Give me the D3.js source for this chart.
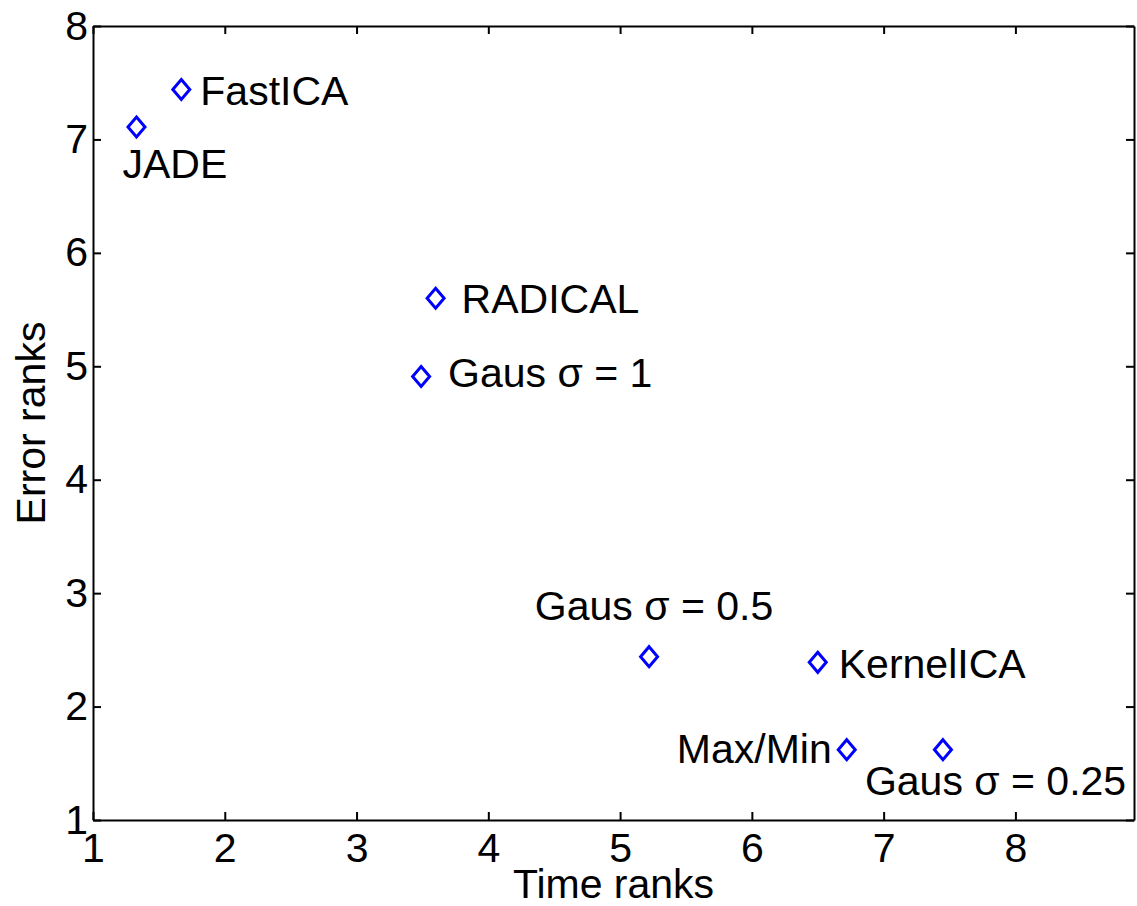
<!DOCTYPE html>
<html>
<head>
<meta charset="utf-8">
<script src="https://cdn.jsdelivr.net/npm/d3@7"></script>
<style>
  body { margin: 0; background: #fff; }
  text { font-family: "Liberation Sans", Arial, sans-serif; fill: #000; }
</style>
</head>
<body>
<svg id="chart" width="1137" height="906"></svg>
<script>
// data
var methods = ['JADE', 'FastICA', 'RADICAL', 'Gaus \u03c3 = 1', 'Gaus \u03c3 = 0.5', 'KernelICA', 'Max/Min', 'Gaus \u03c3 = 0.25'];
var timeRanks = [1.33, 1.67, 3.6, 3.49, 5.22, 6.5, 6.72, 7.45];
var errorRanks = [7.11, 7.44, 5.6, 4.91, 2.44, 2.39, 1.62, 1.62];
var xTicks = [1, 2, 3, 4, 5, 6, 7, 8];
var yTicks = [1, 2, 3, 4, 5, 6, 7, 8];

// where each label sits relative to its marker: [dx, dy, anchor]
var labelPlace = [
    [-14, 51, 'start'],
    [19, 15, 'start'],
    [26, 15, 'start'],
    [27, 11, 'start'],
    [5, -37, 'middle'],
    [21, 16, 'start'],
    [-15, 13, 'end'],
    [-78, 45, 'start']
];

var margin = { top: 26, right: 3, bottom: 86, left: 93 };
var width = 1137 - margin.left - margin.right;
var height = 906 - margin.top - margin.bottom;
var fontSize = 41;

var svg = d3.select('#chart')
    .append('g')
    .attr('transform', 'translate(' + margin.left + ',' + margin.top + ')');

var x = d3.scaleLinear().domain([1, 8.9]).range([0, width]);
var y = d3.scaleLinear().domain([1, 8]).range([height, 0]);

var bottomAxis = svg.append('g')
    .attr('transform', 'translate(0,' + height + ')')
    .call(d3.axisBottom(x).tickValues(xTicks).tickFormat(d3.format('d'))
        .tickSizeInner(-8).tickSizeOuter(0).tickPadding(13));
var leftAxis = svg.append('g')
    .call(d3.axisLeft(y).tickValues(yTicks).tickFormat(d3.format('d'))
        .tickSizeInner(-8).tickSizeOuter(0).tickPadding(5));
var topAxis = svg.append('g')
    .call(d3.axisTop(x).tickValues(xTicks).tickFormat('')
        .tickSizeInner(-8).tickSizeOuter(0));
var rightAxis = svg.append('g')
    .attr('transform', 'translate(' + width + ',0)')
    .call(d3.axisRight(y).tickValues(yTicks).tickFormat('')
        .tickSizeInner(-8).tickSizeOuter(0));

[bottomAxis, leftAxis, topAxis, rightAxis].forEach(function (a) {
    a.selectAll('path, line').attr('stroke', '#000').attr('stroke-width', 2);
    a.selectAll('text')
        .style('font-size', fontSize + 'px')
        .style('font-family', '"Liberation Sans", Arial, sans-serif')
        .attr('fill', '#000');
});

// axis titles
svg.append('text')
    .attr('x', width / 2)
    .attr('y', height + 78)
    .attr('text-anchor', 'middle')
    .style('font-size', fontSize + 'px')
    .text('Time ranks');
svg.append('text')
    .attr('transform', 'translate(' + (-48) + ',' + (height / 2) + ') rotate(-90)')
    .attr('text-anchor', 'middle')
    .style('font-size', fontSize + 'px')
    .text('Error ranks');

var points = methods.map(function (m, i) {
    return { name: m, t: timeRanks[i], e: errorRanks[i], place: labelPlace[i] };
});

// diamond markers
var diamond = 'M0,-10L8.5,0L0,10L-8.5,0Z';
svg.selectAll('.marker')
    .data(points)
    .enter().append('path')
    .attr('class', 'marker')
    .attr('d', diamond)
    .attr('transform', function (d) { return 'translate(' + x(d.t) + ',' + y(d.e) + ')'; })
    .attr('fill', 'none')
    .attr('stroke', '#0000ff')
    .attr('stroke-width', 3);

svg.selectAll('.label')
    .data(points)
    .enter().append('text')
    .attr('class', 'label')
    .attr('x', function (d) { return x(d.t) + d.place[0]; })
    .attr('y', function (d) { return y(d.e) + d.place[1]; })
    .attr('text-anchor', function (d) { return d.place[2]; })
    .style('font-size', fontSize + 'px')
    .text(function (d) { return d.name; });
</script>
</body>
</html>
